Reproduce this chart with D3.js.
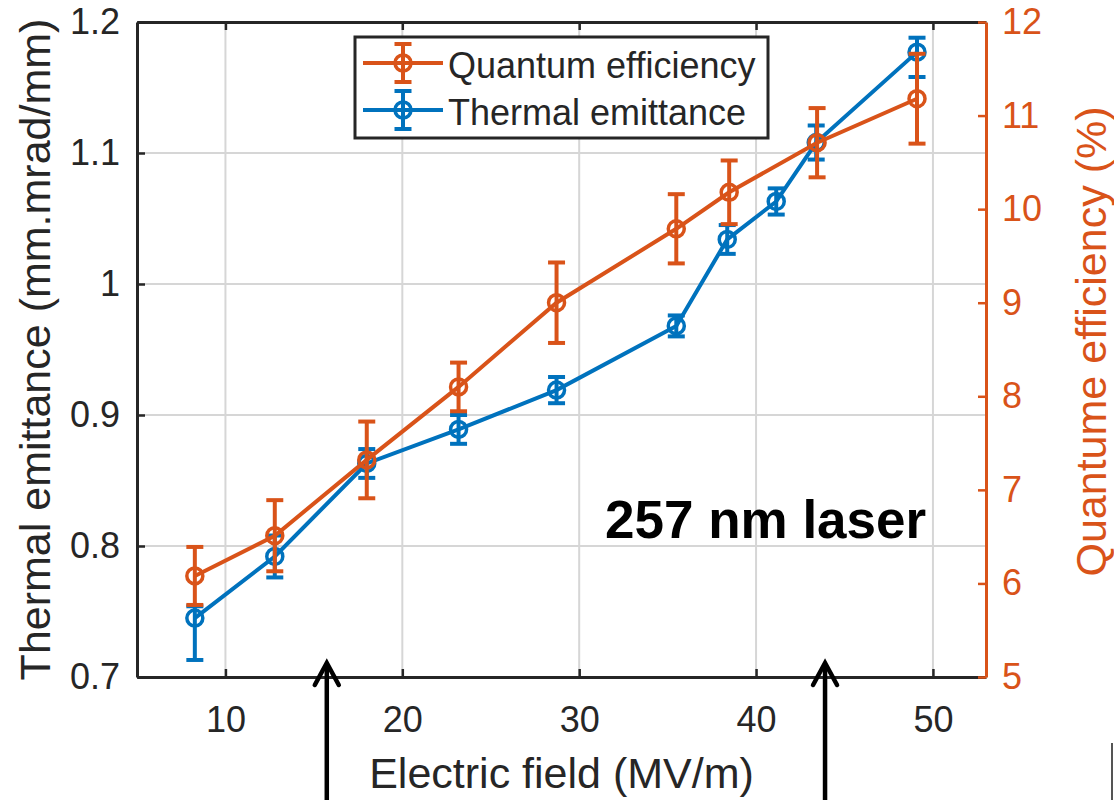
<!DOCTYPE html>
<html>
<head>
<meta charset="utf-8">
<script src="https://cdn.jsdelivr.net/npm/d3@7"></script>
<style>
  body { margin: 0; background: #fff; }
  svg { display: block; font-family: "Liberation Sans", Arial, Helvetica, sans-serif; }
</style>
</head>
<body>
<svg id="chart" width="1114" height="800"></svg>
<script>
// Thermal emittance (left axis) vs electric field
const emitField = [8.27, 12.79, 17.99, 23.18, 28.72, 35.49, 38.37, 41.14, 43.40, 49.10];
const emittance = [0.745, 0.792, 0.863, 0.889, 0.919, 0.968, 1.034, 1.063, 1.108, 1.177];
const emitErrLow = [0.032, 0.016, 0.011, 0.011, 0.010, 0.008, 0.011, 0.010, 0.013, 0.019];
const emitErrHigh = [0.009, 0.016, 0.011, 0.011, 0.010, 0.008, 0.011, 0.010, 0.013, 0.011];

// Quantum efficiency (right axis) vs electric field
const qeField = [8.27, 12.79, 17.99, 23.18, 28.72, 35.49, 38.48, 43.45, 49.10];
const qeValues = [6.08, 6.51, 7.32, 8.10, 9.00, 9.79, 10.18, 10.71, 11.18];
const qeErr = [0.31, 0.38, 0.41, 0.26, 0.43, 0.37, 0.34, 0.37, 0.48];

// Axis ticks
const xTicks = [10, 20, 30, 40, 50];
const yLeftTicks = [0.7, 0.8, 0.9, 1.0, 1.1, 1.2];
const yRightTicks = [5, 6, 7, 8, 9, 10, 11, 12];

// Field values marked by the arrows under the axis
const arrowFields = [15.73, 43.9];

const legendLabels = ["Quantum efficiency", "Thermal emittance"];

const BLUE = "#0072BD", ORANGE = "#D95319", INK = "#262626", GRID = "#d6d6d6";

const svg = d3.select("#chart");
const L = 137, R = 986, T = 22, B = 677;

const x = d3.scaleLinear().domain([5, 53]).range([L, R]);
const yL = d3.scaleLinear().domain([0.7, 1.2]).range([B, T]);
const yR = d3.scaleLinear().domain([5, 12]).range([B, T]);

// grid
const grid = svg.append("g");
grid.selectAll("line.v").data(xTicks).join("line")
  .attr("x1", d => x(d)).attr("x2", d => x(d)).attr("y1", T).attr("y2", B)
  .attr("stroke", GRID).attr("stroke-width", 2);
grid.selectAll("line.h").data(yLeftTicks.slice(1, -1)).join("line")
  .attr("x1", L).attr("x2", R).attr("y1", d => yL(d)).attr("y2", d => yL(d))
  .attr("stroke", GRID).attr("stroke-width", 2);

// axes
const fmt = d => d3.format("~g")(d);
function styleAxis(g, color, fs) {
  g.select(".domain").attr("stroke", color).attr("stroke-width", 3);
  g.selectAll(".tick line").attr("stroke", color).attr("stroke-width", 2.5);
  g.selectAll(".tick text").attr("fill", color).attr("font-size", fs)
    .attr("font-family", "Liberation Sans, Arial, sans-serif");
}
const gBottom = svg.append("g").attr("transform", `translate(0,${B})`)
  .call(d3.axisBottom(x).tickValues(xTicks).tickFormat(fmt).tickSizeInner(-8).tickSizeOuter(0).tickPadding(29));
styleAxis(gBottom, INK, 36);
const gTop = svg.append("g").attr("transform", `translate(0,${T})`)
  .call(d3.axisTop(x).tickValues(xTicks).tickFormat("").tickSizeInner(-8).tickSizeOuter(0));
styleAxis(gTop, INK, 36);
const gLeft = svg.append("g").attr("transform", `translate(${L},0)`)
  .call(d3.axisLeft(yL).tickValues(yLeftTicks).tickFormat(fmt).tickSizeInner(-8).tickSizeOuter(0).tickPadding(17));
styleAxis(gLeft, INK, 36);
const gRight = svg.append("g").attr("transform", `translate(${R},0)`)
  .call(d3.axisRight(yR).tickValues(yRightTicks).tickFormat(fmt).tickSizeInner(-8).tickSizeOuter(0).tickPadding(16));
styleAxis(gRight, ORANGE, 36);

// axis titles
svg.append("text").attr("x", (L + R) / 2).attr("y", 788).attr("text-anchor", "middle")
  .attr("font-size", 43).attr("fill", INK).text("Electric field (MV/m)");
svg.append("text").attr("transform", `translate(50,${(T + B) / 2}) rotate(-90)`).attr("text-anchor", "middle")
  .attr("font-size", 43).attr("fill", INK).text("Thermal emittance (mm.mrad/mm)");
svg.append("text").attr("transform", `translate(1106,${(T + B) / 2 - 8}) rotate(-90)`).attr("text-anchor", "middle")
  .attr("font-size", 43).attr("fill", ORANGE).text("Quantume efficiency (%)");

// series drawing
function drawSeries(xs, ys, lo, hi, yScale, color) {
  const g = svg.append("g");
  const pts = xs.map((d, i) => ({ x: d, y: ys[i], lo: lo[i], hi: hi[i] }));
  g.append("path").datum(pts)
    .attr("d", d3.line().x(d => x(d.x)).y(d => yScale(d.y)))
    .attr("fill", "none").attr("stroke", color).attr("stroke-width", 4);
  const cap = 8.5;
  const eb = g.selectAll("g.eb").data(pts).join("g");
  eb.append("line").attr("x1", d => x(d.x)).attr("x2", d => x(d.x))
    .attr("y1", d => yScale(d.y - d.lo)).attr("y2", d => yScale(d.y + d.hi))
    .attr("stroke", color).attr("stroke-width", 4);
  eb.append("line").attr("x1", d => x(d.x) - cap).attr("x2", d => x(d.x) + cap)
    .attr("y1", d => yScale(d.y - d.lo)).attr("y2", d => yScale(d.y - d.lo))
    .attr("stroke", color).attr("stroke-width", 4);
  eb.append("line").attr("x1", d => x(d.x) - cap).attr("x2", d => x(d.x) + cap)
    .attr("y1", d => yScale(d.y + d.hi)).attr("y2", d => yScale(d.y + d.hi))
    .attr("stroke", color).attr("stroke-width", 4);
  g.selectAll("circle").data(pts).join("circle")
    .attr("cx", d => x(d.x)).attr("cy", d => yScale(d.y)).attr("r", 8)
    .attr("fill", "none").attr("stroke", color).attr("stroke-width", 3.5);
}
drawSeries(emitField, emittance, emitErrLow, emitErrHigh, yL, BLUE);
drawSeries(qeField, qeValues, qeErr, qeErr, yR, ORANGE);

// annotation
svg.append("text").attr("x", 605).attr("y", 538).attr("font-size", 53).attr("font-weight", "bold")
  .attr("fill", "#000").text("257 nm laser");

// legend
const lg = svg.append("g");
lg.append("rect").attr("x", 355).attr("y", 37).attr("width", 413).attr("height", 101)
  .attr("fill", "#fff").attr("stroke", INK).attr("stroke-width", 3);
const legendColors = [ORANGE, BLUE];
legendLabels.forEach((lab, i) => {
  const cy = 63 + i * 47, cx = 403;
  lg.append("line").attr("x1", 363).attr("x2", 443).attr("y1", cy).attr("y2", cy)
    .attr("stroke", legendColors[i]).attr("stroke-width", 4);
  lg.append("line").attr("x1", cx).attr("x2", cx).attr("y1", cy - 19).attr("y2", cy + 19)
    .attr("stroke", legendColors[i]).attr("stroke-width", 4);
  [cy - 19, cy + 19].forEach(yy => lg.append("line").attr("x1", cx - 8.5).attr("x2", cx + 8.5)
    .attr("y1", yy).attr("y2", yy).attr("stroke", legendColors[i]).attr("stroke-width", 4));
  lg.append("circle").attr("cx", cx).attr("cy", cy).attr("r", 8)
    .attr("fill", "none").attr("stroke", legendColors[i]).attr("stroke-width", 3.5);
  lg.append("text").attr("x", 448).attr("y", cy + 15).attr("font-size", 36).attr("fill", INK).text(lab);
});

// arrows below the axis
const ag = svg.append("g");
arrowFields.forEach(f => {
  const ax = x(f), tip = 663;
  ag.append("line").attr("x1", ax).attr("x2", ax).attr("y1", tip + 2).attr("y2", 800)
    .attr("stroke", "#000").attr("stroke-width", 4.5);
  ag.append("path").attr("d", `M${ax - 12},${tip + 22} L${ax},${tip} L${ax + 12},${tip + 22}`)
    .attr("fill", "none").attr("stroke", "#000").attr("stroke-width", 4.5)
    .attr("stroke-linejoin", "miter").attr("stroke-linecap", "round");
});

// edge mark at lower right
svg.append("line").attr("x1", 1112).attr("x2", 1112).attr("y1", 743).attr("y2", 800)
  .attr("stroke", "#555").attr("stroke-width", 2);
</script>
</body>
</html>
